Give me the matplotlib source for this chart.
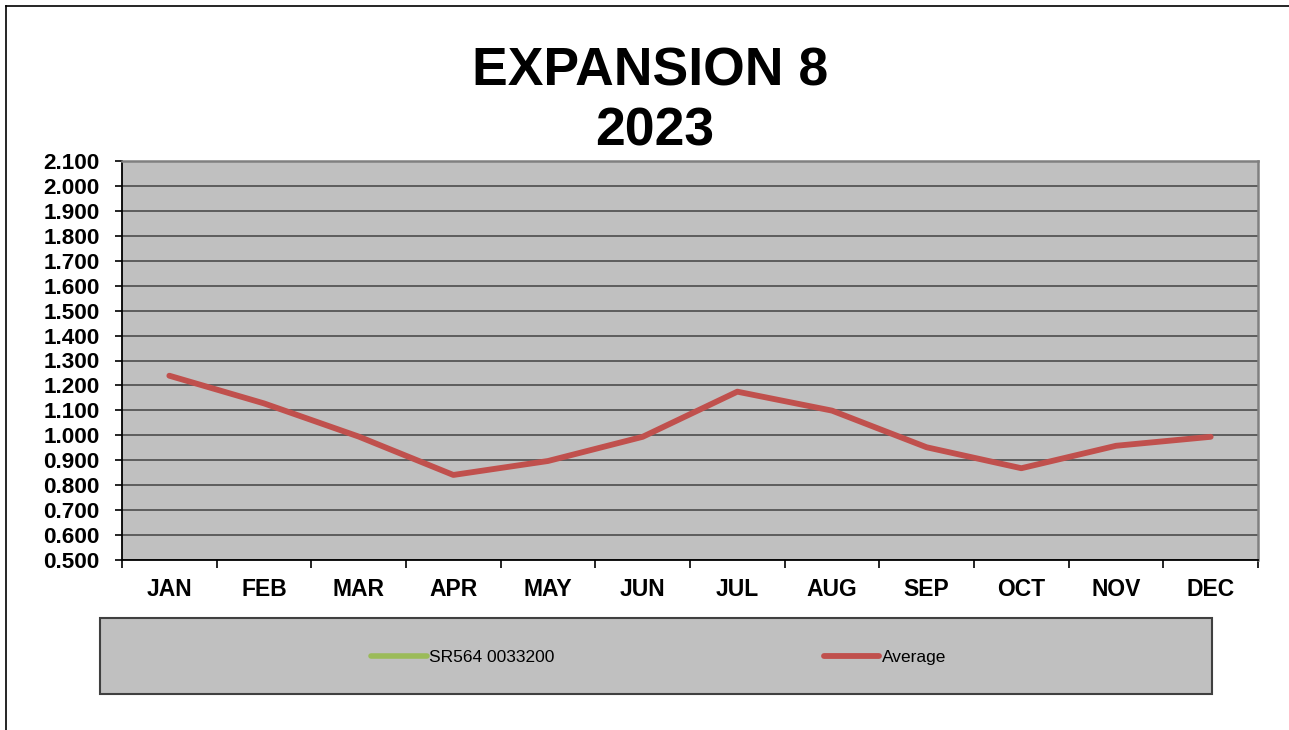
import matplotlib
matplotlib.use("Agg")
import matplotlib.pyplot as plt
from matplotlib.lines import Line2D
from matplotlib.patches import Rectangle
import numpy as np

plt.rcParams['font.family'] = ['Liberation Sans', 'DejaVu Sans']

title_line1 = "EXPANSION 8"
title_line2 = "2023"
months = ["JAN", "FEB", "MAR", "APR", "MAY", "JUN", "JUL", "AUG", "SEP", "OCT", "NOV", "DEC"]
average = [1.239, 1.128, 0.995, 0.841, 0.897, 0.994, 1.175, 1.099, 0.952, 0.868, 0.958, 0.994]
sr564 = []  # series shown only in legend, no visible data
series_names = ["SR564 0033200", "Average"]
y_ticks = [0.5, 0.6, 0.7, 0.8, 0.9, 1.0, 1.1, 1.2, 1.3, 1.4, 1.5, 1.6, 1.7, 1.8, 1.9, 2.0, 2.1]

W, H = 1289, 730
fig = plt.figure(figsize=(W / 100, H / 100), dpi=100)
fig.patch.set_facecolor("white")

def fx(px):
    return px / W

def fy(py):
    return (H - py) / H

# figure border (left and top)
fig.add_artist(Line2D([fx(5.5), fx(5.5)], [fy(5.5), fy(731)], color="black", lw=1.2))
fig.add_artist(Line2D([fx(5.5), fx(1290)], [fy(5.5), fy(5.5)], color="black", lw=1.2))

L, R, T, B = 122, 1258, 161, 560
ax = fig.add_axes([fx(L), fy(B), fx(R) - fx(L), fy(T) - fy(B)])
ax.set_facecolor("#C0C0C0")

x = np.arange(len(months))
ax.plot(sr564, sr564, color="#9BBB59", lw=4, solid_capstyle="round", label=series_names[0])
ax.plot(x, average, color="#C0504D", lw=4.2, solid_capstyle="round",
        solid_joinstyle="round", label=series_names[1], zorder=5)

ax.set_xlim(-0.5, len(months) - 0.5)
ax.set_ylim(0.5, 2.1)
ax.set_yticks(y_ticks)
ax.set_yticklabels([f"{v:.3f}" for v in y_ticks])
ax.yaxis.grid(True, color="#555555", lw=1.3)
ax.set_axisbelow(True)

ax.set_xticks(x)
ax.set_xticklabels(months)
ax.set_xticks(np.arange(-0.5, len(months)), minor=True)
ax.tick_params(axis="x", which="major", length=0, pad=13)
ax.tick_params(axis="x", which="minor", length=6, width=1.2, color="black")
ax.tick_params(axis="y", length=5, width=1.2, color="black", pad=11)
for lab in ax.get_xticklabels():
    lab.set_fontsize(16.5)
    lab.set_fontweight("bold")
for lab in ax.get_yticklabels():
    lab.set_fontsize(16.2)
    lab.set_fontweight("bold")

for s in ["left", "bottom"]:
    ax.spines[s].set_color("black")
    ax.spines[s].set_linewidth(1.3)
for s in ["top", "right"]:
    ax.spines[s].set_color("#808080")
    ax.spines[s].set_linewidth(1.8)

# title
fig.text(fx(650), fy(85), title_line1, ha="center", va="baseline", fontsize=38.5, fontweight="bold")
fig.text(fx(655), fy(145), title_line2, ha="center", va="baseline", fontsize=38.5, fontweight="bold")

# legend box
fig.add_artist(Rectangle((fx(100), fy(694)), fx(1212) - fx(100), fy(618) - fy(694),
                         transform=fig.transFigure, facecolor="#C0C0C0",
                         edgecolor="#404040", lw=1.5))
handles, labels = ax.get_legend_handles_labels()
leg = fig.legend(handles, labels, ncol=2, loc="center left",
                 bbox_to_anchor=(fx(371), fy(657.5)), bbox_transform=fig.transFigure,
                 frameon=False, borderpad=0, borderaxespad=0, handlelength=3.2,
                 handletextpad=0.15, columnspacing=15.5, prop={"size": 12.5})

fig.savefig("out.png", dpi=100)
